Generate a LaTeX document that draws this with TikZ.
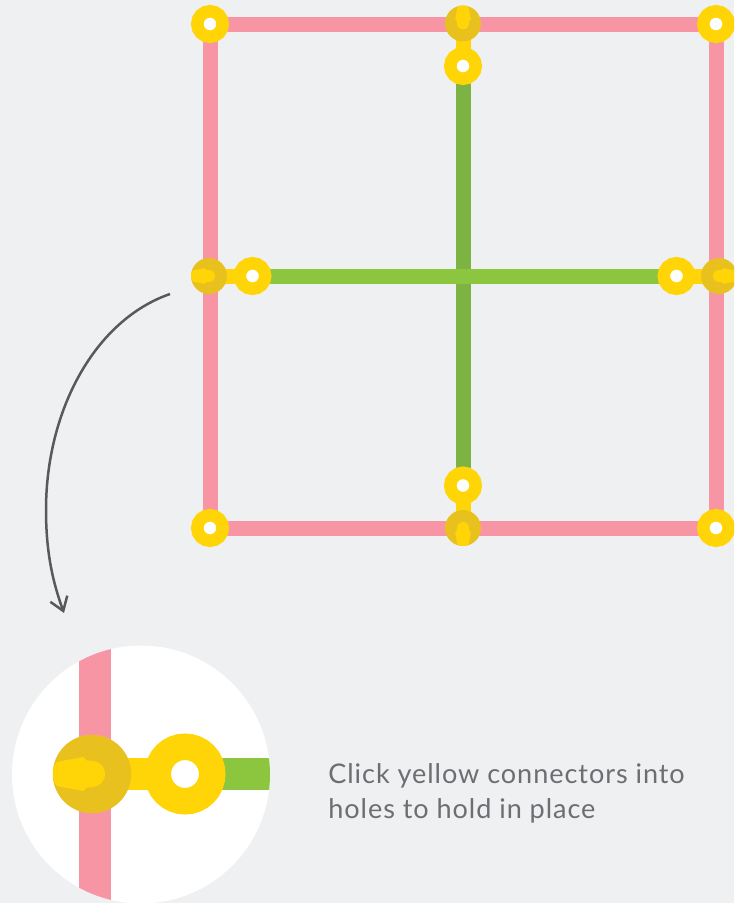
\documentclass[tikz,border=0pt]{standalone}
\usepackage{fontspec}
\setmainfont[LetterSpace=3.5]{Lato}
\usepackage{xcolor}
\usetikzlibrary{arrows.meta,backgrounds}

\definecolor{bgGrey}{HTML}{EFF0F2}
\definecolor{barPink}{HTML}{F895A4}
\definecolor{barGreen}{HTML}{8CC63F}
\definecolor{barDark}{HTML}{7CB342}
\definecolor{pinYellow}{HTML}{FFD508}
\definecolor{holeDark}{HTML}{E9C11F}
\definecolor{arcGrey}{HTML}{58595B}
\definecolor{noteGrey}{HTML}{6D6E71}

\begin{document}
\begin{tikzpicture}[x=0.02cm, y=-0.02cm,
    ring/.style={circle, draw=pinYellow, fill=white, line width=0.25cm, minimum size=0.51cm, inner sep=0pt},
    socket/.style={circle, fill=holeDark, minimum size=0.72cm, inner sep=0pt},
    bigring/.style={circle, draw=pinYellow, fill=white, line width=0.53cm, minimum size=1.09cm, inner sep=0pt},
    bigsocket/.style={circle, fill=holeDark, minimum size=1.57cm, inner sep=0pt},
    lens/.style={circle, fill=white, minimum size=5.16cm, inner sep=0pt},
    pink/.style={draw=barPink, line width=0.3cm},
    green/.style={draw=barGreen, line width=0.3cm},
    darkgreen/.style={draw=barDark, line width=0.3cm},
    stub/.style={draw=pinYellow, line width=0.3cm},
    curve/.style={draw=arcGrey, line width=0.05cm, -{Straight Barb[length=0.26cm, width=0.36cm]}},
    tabpin/.pic={\fill[pinYellow] (-39,0) .. controls (-39,-9) and (-36,-12) .. (-33,-12.5) -- (-9,-17) -- (-5,-13.5)
        .. controls (5,-14) and (13,-9) .. (13,0) .. controls (13,9) and (5,14) .. (-5,13.5) -- (-9,17) -- (-33,12.5)
        .. controls (-36,12) and (-39,9) .. (-39,0) -- cycle;}]

    \useasboundingbox (0,0) rectangle (734,903);
    \clip (0,0) rectangle (734,903);

    % frame corners
    \node[ring] (TL) at (210,24) {};
    \node[ring] (TR) at (716,24) {};
    \node[ring] (BL) at (210,528) {};
    \node[ring] (BR) at (716,528) {};

    % holes in the frame
    \node[socket] (T) at (463,23.5) {};
    \node[socket] (B) at (463,528) {};
    \node[socket] (L) at (209,276) {};
    \node[socket] (R) at (719,276) {};

    % connectors on the cross
    \node[ring] (crossT) at (463,66) {};
    \node[ring] (crossB) at (463,485.5) {};
    \node[ring] (crossL) at (252.5,276) {};
    \node[ring] (crossR) at (676.5,276) {};

    % close up
    \node[bigsocket] (zoomS) at (92,774) {};
    \node[bigring] (zoomR) at (185,774) {};
    \coordinate (zoomE) at (275,774);
    \coordinate (zoomU) at (95,640);
    \coordinate (zoomD) at (95,903);

    \coordinate (arcA) at (170,294);
    \coordinate (arcB) at (46,510);
    \coordinate (arcC) at (64,613);

    \node[anchor=west, align=left, text=noteGrey, inner sep=0pt,
        font=\fontsize{15.4}{19.8}\selectfont] (note) at (328,793) {Click yellow connectors into\\holes to hold in place};

    \begin{scope}[on background layer]
        \fill[bgGrey] (0,0) rectangle (734,903);
        \node[lens] (circ) at (141,774.5) {};

        \draw[pink] (TL.center) -- (TR.center);
        \draw[pink] (BL.center) -- (BR.center);
        \draw[pink] (TL.center) -- (BL.center);
        \draw[pink] (TR.center) -- (BR.center);
        \draw[darkgreen] (crossT.center) -- (crossB.center);
        \draw[green] (crossL.center) -- (crossR.center);
        \draw[stub] (T.center) -- (crossT.center);
        \draw[stub] (B.center) -- (crossB.center);
        \draw[stub] (L.center) -- (crossL.center);
        \draw[stub] (R.center) -- (crossR.center);

        \begin{scope}
            \clip (141,774.5) circle [radius=2.58cm];
            \draw[draw=barPink, line width=0.64cm] (zoomU) -- (zoomD);
            \draw[draw=barGreen, line width=0.65cm] (zoomR.center) -- (zoomE);
        \end{scope}
        \draw[draw=pinYellow, line width=0.65cm] (zoomS.center) -- (zoomR.center);
    \end{scope}

    \pic[scale=0.46] at (L) {tabpin};
    \pic[scale=0.46, rotate=180] at (R) {tabpin};
    \pic[scale=0.46, rotate=-90] at (T) {tabpin};
    \pic[scale=0.46, rotate=90] at (B) {tabpin};
    \pic at (zoomS) {tabpin};

    \draw[curve] (arcA) .. controls (95,320) and (46,410) .. (arcB) .. controls (46,550) and (52,580) .. (arcC);
\end{tikzpicture}
\end{document}
